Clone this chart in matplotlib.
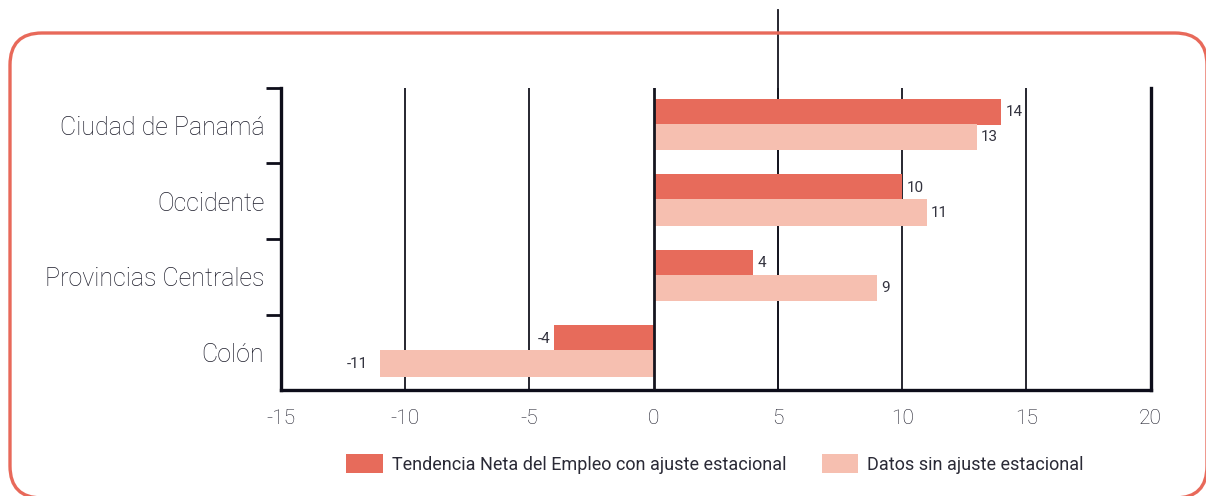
import matplotlib.pyplot as plt
from matplotlib.patches import FancyBboxPatch, Patch
import numpy as np

plt.rcParams['font.family'] = ['Roboto', 'DejaVu Sans']
plt.rcParams['font.weight'] = 'light'
plt.rcParams['axes.unicode_minus'] = False

# Data
regions = ['Ciudad de Panamá', 'Occidente', 'Provincias Centrales', 'Colón']
ajustado = [14, 10, 4, -4]
sin_ajuste = [13, 11, 9, -11]
labels = ['Tendencia Neta del Empleo con ajuste estacional', 'Datos sin ajuste estacional']
xticks = [-15, -10, -5, 0, 5, 10, 15, 20]

dark = '#E76B5B'
light = '#F6BFB0'
ink = '#1c1c2a'

fig = plt.figure(figsize=(12.06, 4.96), dpi=100)
ax = fig.add_axes([0.233, 0.2137, 0.721, 0.6089])

# rounded border around the chart (inches)
border = FancyBboxPatch((0.10, -0.02), 11.97, 4.65,
                        boxstyle='round,pad=0,rounding_size=0.32',
                        transform=fig.dpi_scale_trans, fill=False,
                        edgecolor='#E8695A', linewidth=2.4)
fig.patches.append(border)

y = np.arange(len(regions))
h = 0.35
b1 = ax.barh(y - 0.18, ajustado, height=h, color=dark, zorder=3)
b2 = ax.barh(y + 0.15, sin_ajuste, height=h, color=light, zorder=3)

for bars, vals in ((b1, ajustado), (b2, sin_ajuste)):
    for bar, v in zip(bars, vals):
        cy = bar.get_y() + bar.get_height() / 2
        if v >= 0:
            ax.annotate(str(v), (v, cy), xytext=(3, 0), textcoords='offset points',
                        ha='left', va='center', fontsize=11, color='#33333f',
                        fontweight='normal')
        else:
            pad = -9 if v < -5 else -3
            ax.annotate(str(v), (v, cy), xytext=(pad, 0), textcoords='offset points',
                        ha='right', va='center', fontsize=11, color='#33333f',
                        fontweight='normal')

ax.set_xlim(-15, 20)
ax.set_ylim(3.5, -0.5)

# vertical grid lines
for xv in xticks[1:-1]:
    lw = 2.0 if xv == 0 else 1.3
    ax.axvline(xv, color='#15151f', linewidth=lw, zorder=4 if xv == 0 else 1)
# the line at 5 runs above the plot
ax.axvline(5, ymin=0, ymax=1.258, color='#15151f', linewidth=1.3, clip_on=False, zorder=1)

for side in ['left', 'bottom', 'right']:
    ax.spines[side].set_linewidth(2.4)
    ax.spines[side].set_color('#0d0d1a')
ax.spines['top'].set_visible(False)

ax.set_xticks(xticks)
ax.tick_params(axis='x', length=0, pad=14, labelsize=15, labelcolor=ink)
ax.set_yticks(y)
ax.set_yticklabels(regions)
ax.tick_params(axis='y', which='major', length=0, pad=12, labelsize=18, labelcolor=ink)
ax.set_yticks(np.arange(-0.5, 3.0, 1.0), minor=True)
ax.tick_params(axis='y', which='minor', length=11, width=2, color='#0d0d1a')

handles = [Patch(facecolor=dark), Patch(facecolor=light)]
fig.legend(handles, labels, loc='center', bbox_to_anchor=(0.593, 0.065), ncol=2,
           frameon=False, handlelength=2.0, handleheight=1.25,
           columnspacing=2.0, handletextpad=0.5, labelcolor='#2a2a36',
           prop={'size': 13, 'weight': 'normal'})

fig.savefig('out.png', dpi=100)
